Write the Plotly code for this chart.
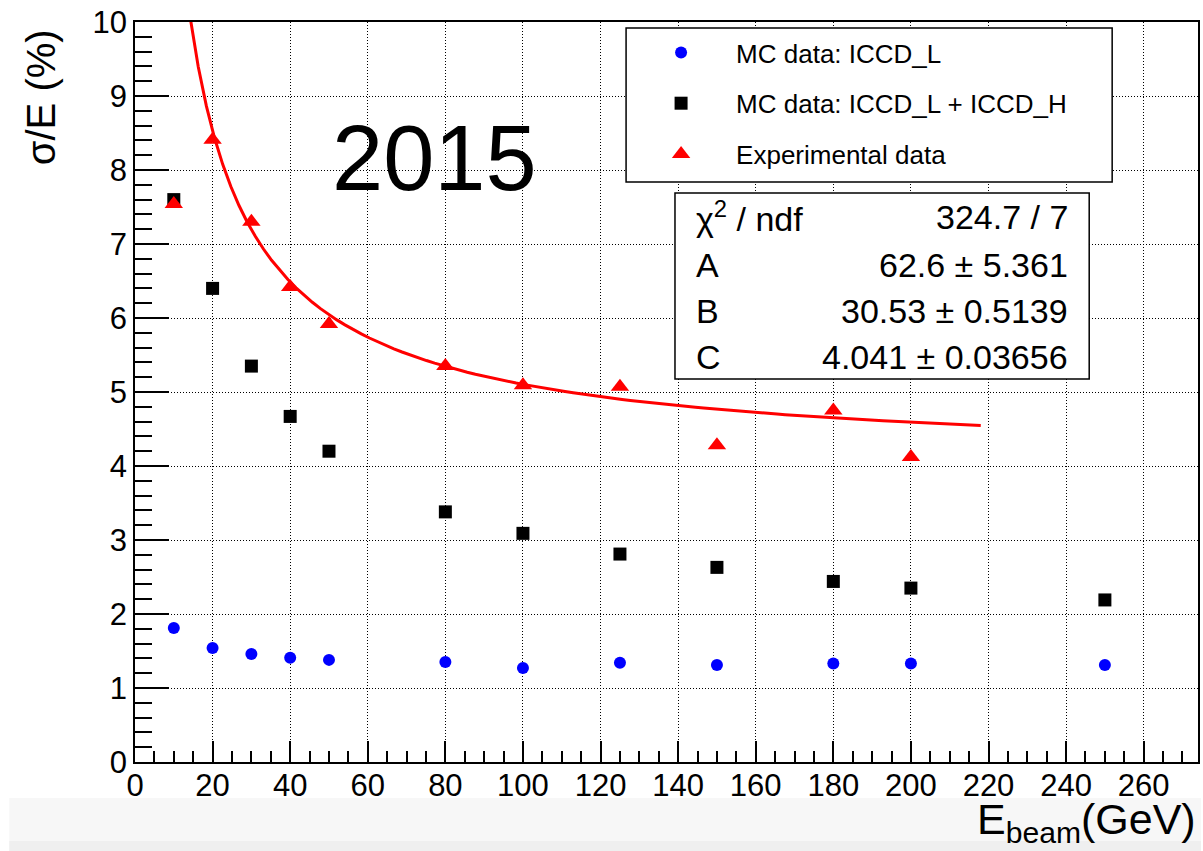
import numpy as np
import plotly.graph_objects as go

# Beam energies (GeV) and relative energy resolution sigma/E (%)
energy = [10, 20, 30, 40, 50, 80, 100, 125, 150, 180, 200, 250]
res_iccd_l = [1.81, 1.54, 1.46, 1.41, 1.38, 1.35, 1.27, 1.34, 1.31, 1.33, 1.33, 1.31]
res_iccd_lh = [7.60, 6.40, 5.35, 4.67, 4.20, 3.38, 3.09, 2.81, 2.63, 2.44, 2.35, 2.19]

exp_energy = [10, 20, 30, 40, 50, 80, 100, 125, 150, 180, 200]
res_exp = [7.54, 8.41, 7.30, 6.42, 5.92, 5.35, 5.09, 5.07, 4.28, 4.75, 4.12]

# Fit result: sigma/E = sqrt((A/E)^2 + (B/sqrt(E))^2 + C^2)
fit_chi2, fit_ndf = 324.7, 7
fit_A, fit_A_err = 62.6, 5.361
fit_B, fit_B_err = 30.53, 0.5139
fit_C, fit_C_err = 4.041, 0.03656
fit_lo, fit_hi = 10, 218

W, H = 1203, 851
ML, MR, MT, MB = 135, 3, 22, 89
PW, PH = W - ML - MR, H - MT - MB


def px(x):
    return (x - ML) / PW


def py(y):
    return (H - MB - y) / PH


FONT = "Liberation Sans, Arial, Helvetica, sans-serif"

e_fit = np.linspace(fit_lo, fit_hi, 100)
res_fit = np.sqrt((fit_A / e_fit) ** 2 + (fit_B / np.sqrt(e_fit)) ** 2 + fit_C ** 2)

fig = go.Figure()
fig.add_trace(go.Scatter(
    x=e_fit, y=res_fit, mode="lines", line=dict(color="#ff0000", width=3),
    showlegend=False, hoverinfo="skip"))
fig.add_trace(go.Scatter(
    x=energy, y=res_iccd_l, mode="markers", name="MC data: ICCD_L",
    marker=dict(symbol="circle", size=12, color="#0000ff"), legendgroup="a"))
fig.add_trace(go.Scatter(
    x=energy, y=res_iccd_lh, mode="markers", name="MC data: ICCD_L + ICCD_H",
    marker=dict(symbol="square", size=13, color="#000000"), legendgroup="b"))
fig.add_trace(go.Scatter(
    x=exp_energy, y=res_exp, mode="markers", name="Experimental data",
    marker=dict(symbol="triangle-up", size=16, color="#ff0000"), legendgroup="c"))

axis_common = dict(
    showline=True, linecolor="black", linewidth=1.5, mirror=True,
    ticks="inside", tickcolor="black", tickwidth=1.5,
    showgrid=True, gridcolor="black", gridwidth=1, griddash="1px,2px",
    zeroline=False, tickfont=dict(family=FONT, size=31, color="black"),
)

fig.update_xaxes(range=[0, 274], dtick=20, tick0=0, ticklen=21, ticklabelstandoff=-5,
                 minor=dict(dtick=5, ticklen=11, ticks="inside",
                            tickcolor="black", tickwidth=1.5, showgrid=False),
                 **axis_common)
fig.update_yaxes(range=[0, 10], dtick=1, tick0=0, ticklen=34,
                 minor=dict(dtick=0.2, ticklen=17, ticks="inside",
                            tickcolor="black", tickwidth=1.5, showgrid=False),
                 **axis_common)

shapes = [
    # light strip along the bottom of the page
    dict(type="rect", xref="paper", yref="paper", x0=px(9), x1=px(W), y0=py(798), y1=py(841),
         fillcolor="#f7f7f7", line=dict(width=0), layer="below"),
    dict(type="rect", xref="paper", yref="paper", x0=px(9), x1=px(W), y0=py(841), y1=py(H),
         fillcolor="#efefef", line=dict(width=0), layer="below"),
    # legend frame
    dict(type="rect", xref="paper", yref="paper", x0=px(627), x1=px(1114), y0=py(28), y1=py(182),
         fillcolor="white", line=dict(color="black", width=1.5), layer="above"),
    # fit statistics frame
    dict(type="rect", xref="paper", yref="paper", x0=px(676), x1=px(1091), y0=py(193), y1=py(379),
         fillcolor="white", line=dict(color="black", width=1.5), layer="above"),
]

annotations = [
    dict(text="2015", x=px(435), y=py(158), xref="paper", yref="paper",
         xanchor="center", yanchor="middle", showarrow=False,
         font=dict(family=FONT, size=92, color="black")),
    dict(text="σ/E (%)", x=px(41), y=py(27), xref="paper", yref="paper",
         xanchor="center", yanchor="top", textangle=-90, showarrow=False,
         font=dict(family=FONT, size=40, color="black")),
    dict(text="E<sub>beam</sub>(GeV)", x=px(1200), y=py(793), xref="paper", yref="paper",
         xanchor="right", yanchor="top", showarrow=False,
         font=dict(family=FONT, size=43, color="black")),
]

stat_rows = [
    ("χ<sup>2</sup> / ndf", f"{fit_chi2} / {fit_ndf}"),
    ("A", f"{fit_A} ± {fit_A_err}"),
    ("B", f"{fit_B} ± {fit_B_err}"),
    ("C", f"{fit_C} ± {fit_C_err}"),
]
row_y = [217, 265, 311, 357]
for (label, value), yy in zip(stat_rows, row_y):
    annotations.append(dict(text=label, x=px(695), y=py(yy), xref="paper", yref="paper",
                            xanchor="left", yanchor="middle", showarrow=False,
                            font=dict(family=FONT, size=34, color="black")))
    annotations.append(dict(text=value, x=px(1072), y=py(yy), xref="paper", yref="paper",
                            xanchor="right", yanchor="middle", showarrow=False,
                            font=dict(family=FONT, size=34, color="black")))

fig.update_layout(
    width=W, height=H,
    margin=dict(l=ML, r=MR, t=MT, b=MB, pad=0),
    paper_bgcolor="white", plot_bgcolor="white",
    font=dict(family=FONT, color="black"),
    shapes=shapes, annotations=annotations,
    legend=dict(x=px(627), y=py(29), xanchor="left", yanchor="top",
                bgcolor="rgba(0,0,0,0)", borderwidth=0,
                font=dict(family=FONT, size=26, color="black"),
                itemwidth=100, tracegroupgap=14, traceorder="grouped"),
    showlegend=True,
)

fig.write_html("out.html")
